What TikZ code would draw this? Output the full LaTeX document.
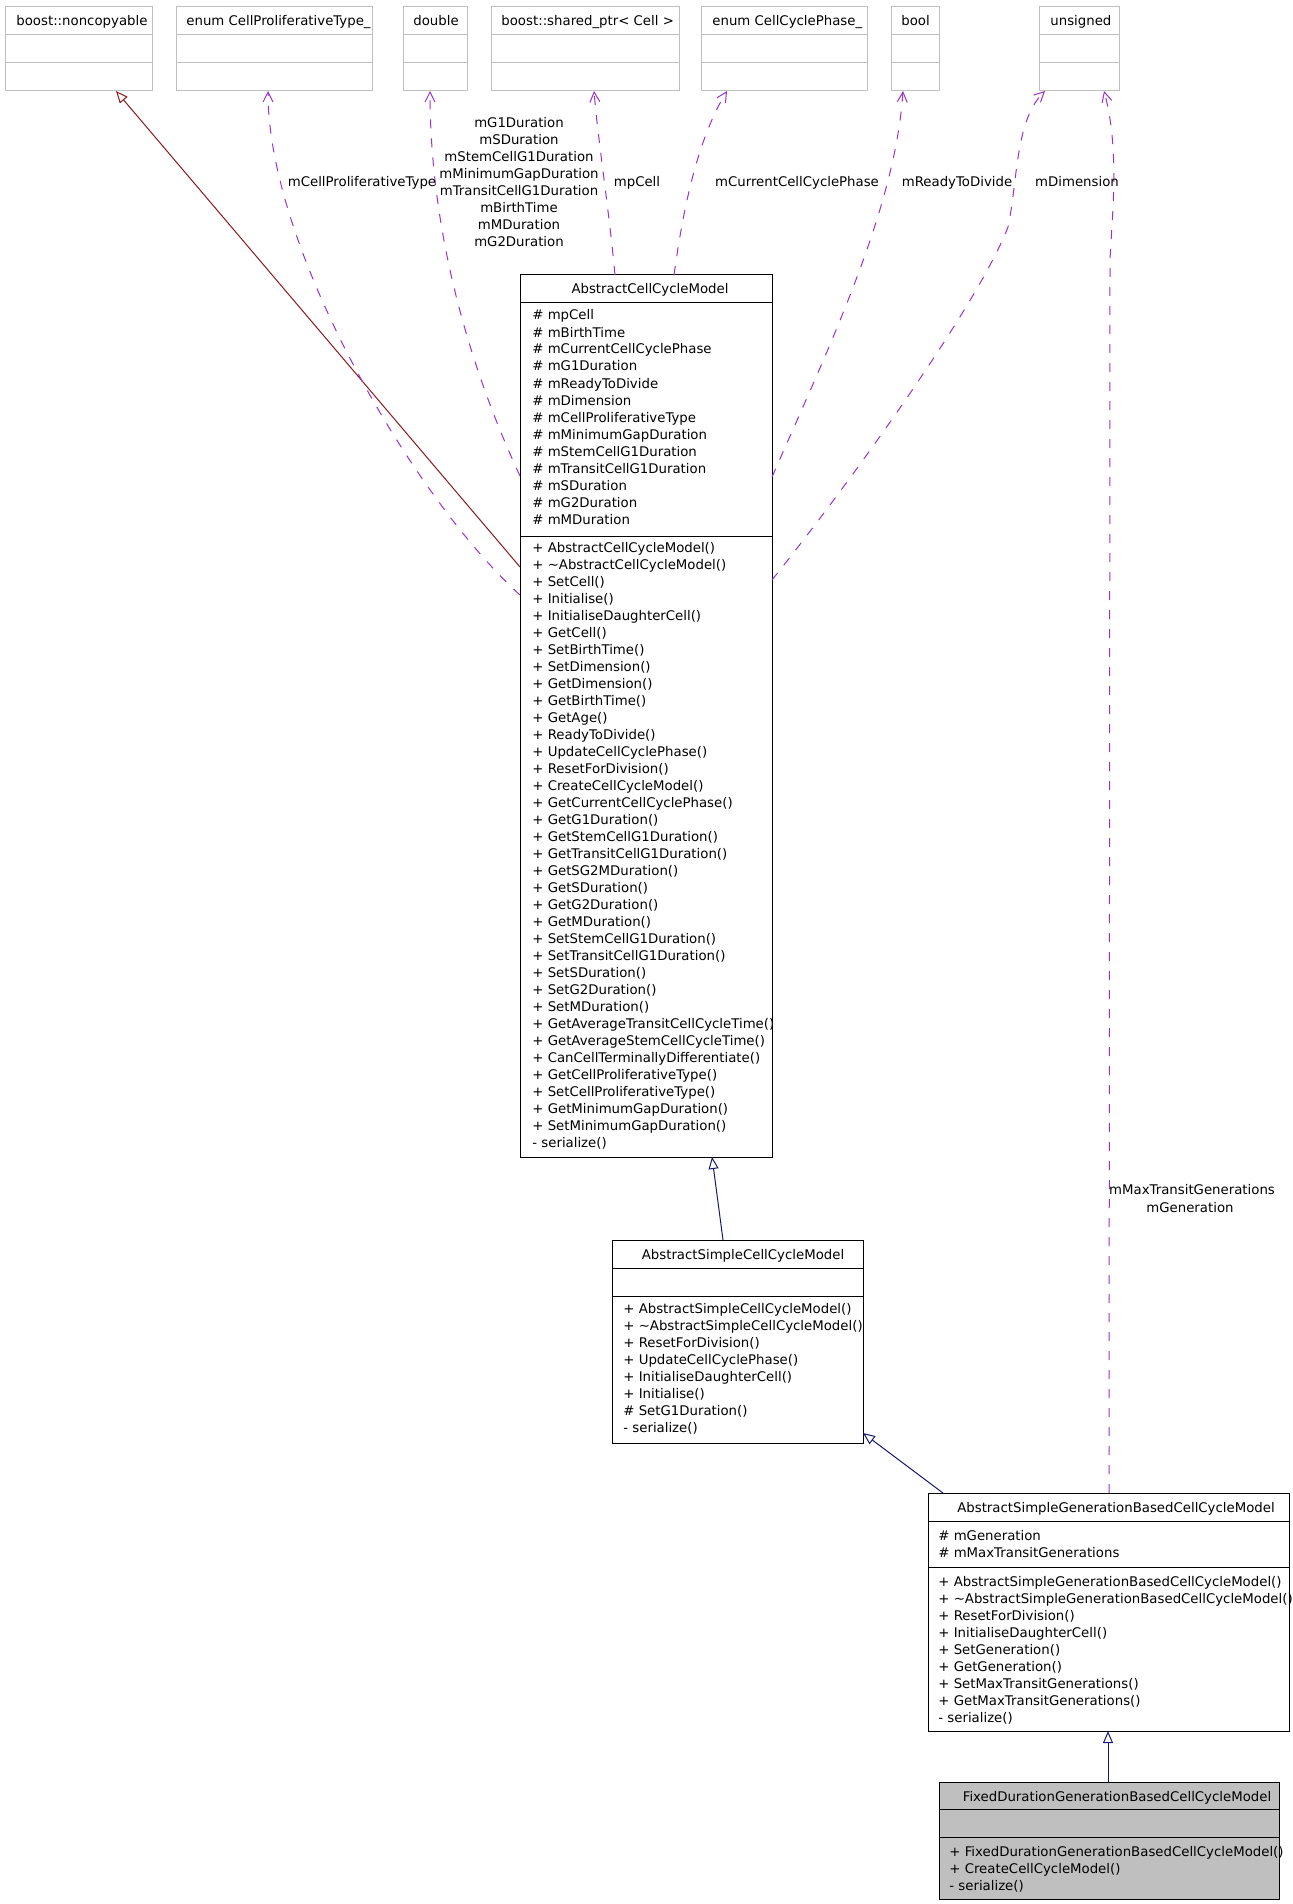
\documentclass[tikz,border=0pt]{standalone}
\usepackage{fontspec}
\setmainfont{DejaVu Sans}
\usetikzlibrary{arrows.meta,calc}
\definecolor{grey75}{HTML}{BFBFBF}
\definecolor{firebrick4}{HTML}{8B1A1A}
\definecolor{midnightblue}{HTML}{191970}
\definecolor{darkorchid3}{HTML}{9A32CD}
\newcommand\umlfont{\fontsize{6.65pt}{8.5pt}\selectfont}
\tikzset{
  clsbox/.style={draw=black, line width=0.5pt, fill=white, inner sep=0pt, outer sep=0pt, anchor=north west},
  extbox/.style={draw=grey75, line width=0.5pt, fill=white, inner sep=0pt, outer sep=0pt, anchor=north west, minimum height=42pt},
  member/.style={anchor=base west, inner sep=0pt, font=\umlfont},
  ctitle/.style={anchor=base, inner sep=0pt, font=\umlfont},
  xtitle/.style={anchor=base west, inner sep=0pt, font=\umlfont},
  elabel/.style={anchor=base, inner sep=0pt, font=\umlfont},
  inhred/.style={draw=firebrick4, line width=0.5pt, -{Triangle[length=6pt,width=5pt,fill=white]}},
  inhblue/.style={draw=midnightblue, line width=0.5pt, -{Triangle[length=6pt,width=5pt,fill=white]}},
  usage/.style={draw=darkorchid3, line width=0.5pt, dash pattern=on 4.5pt off 5pt, -{Straight Barb[length=5pt,width=5pt]}},
  sepline/.style={line width=0.5pt},
}
\begin{document}
\begin{tikzpicture}[x=0.5pt,y=-0.5pt]
\fill[white] (0,0) rectangle (1293,1904);
\useasboundingbox (0,0) rectangle (1293,1904);

% ---------- external types ----------
\node[extbox, minimum width=73.5pt] (nc) at (5,7) {};
\node[extbox, minimum width=98pt] (cpt) at (176,7) {};
\node[extbox, minimum width=32pt] (dbl) at (403,7) {};
\node[extbox, minimum width=94pt] (sp) at (491,7) {};
\node[extbox, minimum width=83pt] (ccp) at (701,7) {};
\node[extbox, minimum width=24pt] (bool) at (891,7) {};
\node[extbox, minimum width=40pt] (uns) at (1039,7) {};
\foreach \n in {nc,cpt,dbl,sp,ccp,bool,uns}{
  \draw[sepline, grey75] ($(\n.north west)+(0,28)$) -- ($(\n.north east)+(0,28)$);
  \draw[sepline, grey75] ($(\n.north west)+(0,56)$) -- ($(\n.north east)+(0,56)$);
}
\node[xtitle] (nc-t) at (16,26) {boost::noncopyable};
\node[xtitle] (cpt-t) at (186,26) {enum CellProliferativeType\_};
\node[xtitle] (dbl-t) at (413,26) {double};
\node[xtitle] (sp-t) at (501,26) {boost::shared\_ptr< Cell >};
\node[xtitle] (ccp-t) at (712,26) {enum CellCyclePhase\_};
\node[xtitle] (bool-t) at (901,26) {bool};
\node[xtitle] (uns-t) at (1050,26) {unsigned};

% ---------- AbstractCellCycleModel ----------
\node[clsbox, minimum width=126pt, minimum height=441pt] (acc) at (520,275) {};
\draw[sepline] ($(acc.north west)+(0,28)$) -- ($(acc.north east)+(0,28)$);
\draw[sepline] ($(acc.north west)+(0,261)$) -- ($(acc.north east)+(0,261)$);
\node[ctitle] (acc-t) at (650,294) {AbstractCellCycleModel};
\foreach \t [count=\i from 0] in {mpCell,mBirthTime,mCurrentCellCyclePhase,mG1Duration,mReadyToDivide,mDimension,mCellProliferativeType,mMinimumGapDuration,mStemCellG1Duration,mTransitCellG1Duration,mSDuration,mG2Duration,mMDuration}
  \node[member] (acc-a\i) at (532,320+17*\i) {\# \t};
\foreach \t [count=\i from 0] in {+ AbstractCellCycleModel(),+ \textasciitilde AbstractCellCycleModel(),+ SetCell(),+ Initialise(),+ InitialiseDaughterCell(),+ GetCell(),+ SetBirthTime(),+ SetDimension(),+ GetDimension(),+ GetBirthTime(),+ GetAge(),+ ReadyToDivide(),+ UpdateCellCyclePhase(),+ ResetForDivision(),+ CreateCellCycleModel(),+ GetCurrentCellCyclePhase(),+ GetG1Duration(),+ GetStemCellG1Duration(),+ GetTransitCellG1Duration(),+ GetSG2MDuration(),+ GetSDuration(),+ GetG2Duration(),+ GetMDuration(),+ SetStemCellG1Duration(),+ SetTransitCellG1Duration(),+ SetSDuration(),+ SetG2Duration(),+ SetMDuration(),+ GetAverageTransitCellCycleTime(),+ GetAverageStemCellCycleTime(),+ CanCellTerminallyDifferentiate(),+ GetCellProliferativeType(),+ SetCellProliferativeType(),+ GetMinimumGapDuration(),+ SetMinimumGapDuration(),- serialize()}
  \node[member] (acc-m\i) at (532,552+17*\i) {\t};

% ---------- AbstractSimpleCellCycleModel ----------
\node[clsbox, minimum width=125.5pt, minimum height=101.5pt] (ascm) at (612,1240) {};
\draw[sepline] ($(ascm.north west)+(0,28)$) -- ($(ascm.north east)+(0,28)$);
\draw[sepline] ($(ascm.north west)+(0,56)$) -- ($(ascm.north east)+(0,56)$);
\node[ctitle] (ascm-t) at (743,1259) {AbstractSimpleCellCycleModel};
\foreach \t [count=\i from 0] in {+ AbstractSimpleCellCycleModel(),+ \textasciitilde AbstractSimpleCellCycleModel(),+ ResetForDivision(),+ UpdateCellCyclePhase(),+ InitialiseDaughterCell(),+ Initialise(),\# SetG1Duration(),- serialize()}
  \node[member] (ascm-m\i) at (623,1313+17*\i) {\t};

% ---------- AbstractSimpleGenerationBasedCellCycleModel ----------
\node[clsbox, minimum width=180.5pt, minimum height=119pt] (asg) at (928,1493) {};
\draw[sepline] ($(asg.north west)+(0,28)$) -- ($(asg.north east)+(0,28)$);
\draw[sepline] ($(asg.north west)+(0,74)$) -- ($(asg.north east)+(0,74)$);
\node[ctitle] (asg-t) at (1116,1512) {AbstractSimpleGenerationBasedCellCycleModel};
\foreach \t [count=\i from 0] in {mGeneration,mMaxTransitGenerations}
  \node[member] (asg-a\i) at (938,1540+17*\i) {\# \t};
\foreach \t [count=\i from 0] in {+ AbstractSimpleGenerationBasedCellCycleModel(),+ \textasciitilde AbstractSimpleGenerationBasedCellCycleModel(),+ ResetForDivision(),+ InitialiseDaughterCell(),+ SetGeneration(),+ GetGeneration(),+ SetMaxTransitGenerations(),+ GetMaxTransitGenerations(),- serialize()}
  \node[member] (asg-m\i) at (938,1586+17*\i) {\t};

% ---------- FixedDurationGenerationBasedCellCycleModel ----------
\node[clsbox, fill=grey75, minimum width=170pt, minimum height=58.5pt] (fix) at (939,1782) {};
\draw[sepline] ($(fix.north west)+(0,27)$) -- ($(fix.north east)+(0,27)$);
\draw[sepline] ($(fix.north west)+(0,55)$) -- ($(fix.north east)+(0,55)$);
\node[ctitle] (fix-t) at (1117,1801) {FixedDurationGenerationBasedCellCycleModel};
\foreach \t [count=\i from 0] in {+ FixedDurationGenerationBasedCellCycleModel(),+ CreateCellCycleModel(),- serialize()}
  \node[member] (fix-m\i) at (949,1856+17*\i) {\t};

% ---------- inheritance ----------
\draw[inhred] ($(acc.north west)+(0,292)$) -- ($(nc.south west)+(111,0)$);
\draw[inhblue] ($(ascm.north west)+(111,0)$) -- ($(acc.south west)+(192,0)$);
\draw[inhblue] ($(asg.north west)+(15,0)$) -- ($(ascm.north east)+(0,193)$);
\draw[inhblue] ($(fix.north west)+(169,0)$) -- ($(asg.south west)+(180,0)$);

% ---------- usage ----------
\draw[usage] ($(acc.north west)+(0,320)$) .. controls (415,500) and (268,250) .. ($(cpt.south west)+(92,0)$);
\draw[usage] ($(acc.north west)+(0,201)$) .. controls (480,390) and (430,250) .. ($(dbl.south west)+(27,0)$);
\draw[usage] ($(acc.north west)+(95,0)$) .. controls (609,210) and (598,140) .. ($(sp.south west)+(103,0)$);
\draw[usage] ($(acc.north west)+(154,0)$) .. controls (683,210) and (697,140) .. ($(ccp.south west)+(26,0)$);
\draw[usage] ($(acc.north east)+(0,202)$) .. controls (829,347) and (895,210) .. ($(bool.south west)+(12,0)$);
\draw[usage] ($(acc.north east)+(0,305)$) .. controls (860,470) and (980,300) .. (1008,227) .. controls (1018,180) and (1015,120) .. ($(uns.south west)+(6,0)$);
\draw[usage] ($(asg.north west)+(181,0)$) -- (1110,260) .. controls (1112,215) and (1120,150) .. ($(uns.south west)+(65,0)$);

% ---------- edge labels ----------
\node[elabel] (l-cpt) at (362,187) {mCellProliferativeType};
\foreach \t [count=\i from 0] in {mG1Duration,mSDuration,mStemCellG1Duration,mMinimumGapDuration,mTransitCellG1Duration,mBirthTime,mMDuration,mG2Duration}
  \node[elabel] (l-dbl\i) at (519,128+17*\i) {\t};
\node[elabel] (l-sp) at (637,187) {mpCell};
\node[elabel] (l-ccp) at (797,187) {mCurrentCellCyclePhase};
\node[elabel] (l-bool) at (957,187) {mReadyToDivide};
\node[elabel] (l-uns) at (1077,187) {mDimension};
\node[elabel] (l-gen0) at (1192,1194) {mMaxTransitGenerations};
\node[elabel] (l-gen1) at (1190,1212) {mGeneration};
\end{tikzpicture}
\end{document}
